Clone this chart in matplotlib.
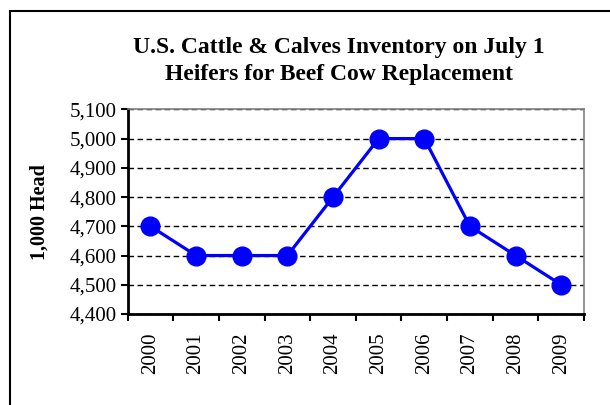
import matplotlib.pyplot as plt
from matplotlib.patches import Rectangle
from matplotlib.ticker import FixedLocator, FuncFormatter

years = ['2000', '2001', '2002', '2003', '2004', '2005', '2006', '2007', '2008', '2009']
heifers = [4700, 4600, 4600, 4600, 4800, 5000, 5000, 4700, 4600, 4500]
y_ticks = [4400, 4500, 4600, 4700, 4800, 4900, 5000, 5100]

plt.rcParams['font.family'] = ['Liberation Serif', 'DejaVu Serif']

fig = plt.figure(figsize=(6.10, 4.05), dpi=100)
ax = fig.add_axes([0.2093, 0.2247, 0.7481, 0.5053])

# outer frame of the chart (runs off the right and bottom edge)
fig.patches.append(Rectangle((10 / 610, -0.05), 1.0, 1 - 11 / 405 + 0.05,
                             transform=fig.transFigure, fill=False,
                             edgecolor='black', linewidth=1.5))

x = list(range(len(years)))
ax.plot(x, heifers, color='#0000FF', linewidth=2.3, marker='o',
        markersize=13.5, zorder=3, clip_on=False)

ax.set_xlim(-0.5, len(years) - 0.5)
ax.set_ylim(4400, 5100)

ax.yaxis.set_major_locator(FixedLocator(y_ticks))
ax.yaxis.set_major_formatter(FuncFormatter(lambda v, p: f'{int(v):,}'))
ax.grid(axis='y', color='black', linestyle=(0, (4, 2.5)), linewidth=1.0)

# ticks between categories, labels at the centres
ax.xaxis.set_major_locator(FixedLocator([i - 0.5 for i in range(len(years) + 1)]))
ax.xaxis.set_major_formatter(FuncFormatter(lambda v, p: ''))
ax.xaxis.set_minor_locator(FixedLocator(x))
ax.set_xticklabels(years, minor=True, rotation=90)
ax.tick_params(axis='x', which='minor', length=0, pad=13, labelsize=15)
ax.tick_params(axis='x', which='major', length=5, width=1.5, direction='out')
ax.tick_params(axis='y', length=5, width=1.5, direction='out', labelsize=15, pad=3)

ax.spines['left'].set_linewidth(2)
ax.spines['bottom'].set_linewidth(2)
ax.spines['top'].set_color('#808080')
ax.spines['right'].set_color('#808080')
ax.spines['top'].set_linewidth(1.2)
ax.spines['right'].set_linewidth(1.2)

ax.set_ylabel('1,000 Head', fontsize=14.5, fontweight='bold', labelpad=14)

fig.text(0.556, 0.849, 'U.S. Cattle & Calves Inventory on July 1\nHeifers for Beef Cow Replacement',
         ha='center', va='center', fontsize=17, fontweight='bold', linespacing=1.35)

fig.savefig('out.png', dpi=100)
